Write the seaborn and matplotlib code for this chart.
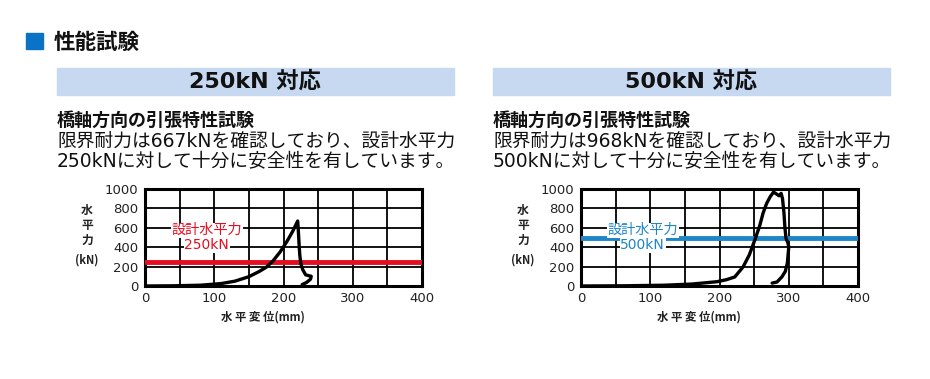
import pandas as pd
import matplotlib
matplotlib.use("Agg")
import matplotlib.pyplot as plt
import seaborn as sns
from matplotlib.patches import Rectangle

# --- Data ---
X_TICKS = [0, 100, 200, 300, 400]
Y_TICKS = [0, 200, 400, 600, 800, 1000]

# 250kN type: horizontal displacement (mm) vs horizontal force (kN)
disp_250 = [0, 40, 80, 110, 130, 150, 165, 175, 185, 195, 205, 213, 220.5,
            221.5, 222.5, 223.5, 225, 228, 232, 240, 239, 233, 227]
force_250 = [0, 2, 8, 25, 50, 96, 150, 193, 260, 350, 460, 560, 670,
             560, 430, 320, 230, 165, 115, 100, 70, 35, 15]

# 500kN type
disp_500 = [0, 60, 120, 160, 196, 210, 222, 234, 243, 251, 258, 263, 268,
            273, 278, 282, 286, 289, 291, 293, 294.5, 296, 299, 300, 298,
            295, 290, 283, 276]
force_500 = [0, 2, 8, 20, 44, 65, 93, 196, 320, 474, 620, 753, 850,
             918, 968, 950, 930, 955, 900, 760, 600, 495, 440, 400, 237,
             150, 93, 41, 30]

DESIGN_250 = 250
DESIGN_500 = 500

panels = [
    {"title": "250kN 対応", "limit": 667, "design": DESIGN_250,
     "x": disp_250, "y": force_250, "color": "#e50d1f", "left": 145},
    {"title": "500kN 対応", "limit": 968, "design": DESIGN_500,
     "x": disp_500, "y": force_500, "color": "#1c86c8", "left": 581},
]

sns.set_style("white")
plt.rcParams['font.family'] = ['Noto Sans CJK JP', 'DejaVu Sans']
LATIN_FIRST = ['DejaVu Sans', 'Noto Sans CJK JP']

W, H = 930, 379
fig = plt.figure(figsize=(W / 100, H / 100), dpi=100)


def fx(px):
    return px / W


def fy(py):
    return 1 - py / H


# section header
fig.patches.append(Rectangle((fx(26), fy(49)), 17 / W, 16 / H,
                             transform=fig.transFigure, color="#0b73c6"))
fig.text(fx(54), fy(42), "性能試験", fontsize=15.5, fontweight="bold",
         va="center", ha="left", color="#111111")

for p in panels:
    left = p["left"]
    band_l = left - 88
    # light blue banner
    fig.patches.append(Rectangle((fx(band_l), fy(95)), 397 / W, 27 / H,
                                 transform=fig.transFigure, color="#c6d9f0"))
    fig.text(fx(band_l + 198), fy(81), p["title"], fontsize=16,
             fontweight="bold", ha="center", va="center", color="#111111",
             family=LATIN_FIRST)
    fig.text(fx(band_l), fy(120), "橋軸方向の引張特性試験", fontsize=13,
             fontweight="bold", ha="left", va="center", color="#111111")
    fig.text(fx(band_l), fy(141),
             f"限界耐力は{p['limit']}kNを確認しており、設計水平力",
             fontsize=13.5, ha="left", va="center", color="#111111",
             family=LATIN_FIRST)
    fig.text(fx(band_l), fy(162),
             f"{p['design']}kNに対して十分に安全性を有しています。",
             fontsize=13.5, ha="left", va="center", color="#111111",
             family=LATIN_FIRST)

    ax = fig.add_axes([fx(left), fy(286), 277 / W, 97 / H])
    df = pd.DataFrame({"disp": p["x"], "force": p["y"]})
    ax.axhline(p["design"], color=p["color"], lw=3.5, zorder=3)
    sns.lineplot(data=df, x="disp", y="force", sort=False, estimator=None,
                 color="black", lw=2.4, ax=ax, zorder=4)
    ax.set_xlim(0, 400)
    ax.set_ylim(0, 1000)
    ax.set_xticks(X_TICKS)
    ax.set_xticks(range(0, 401, 50), minor=True)
    ax.set_yticks(Y_TICKS)
    ax.grid(True, which="both", color="black", lw=1.3, zorder=1)
    ax.set_axisbelow(True)
    for s in ax.spines.values():
        s.set_color("black")
        s.set_linewidth(2.2)
    ax.tick_params(axis="both", which="both", length=0, labelsize=9.5,
                   colors="#222222")
    ax.tick_params(axis="y", pad=5)
    ax.tick_params(axis="x", pad=4)
    for lab in ax.get_xticklabels() + ax.get_yticklabels():
        lab.set_family("DejaVu Sans")
    ax.set_xlabel("")
    ax.set_ylabel("")
    ax.text(89, 575, "設計水平力", color=p["color"], fontsize=10.2,
            ha="center", va="center", zorder=5,
            bbox=dict(facecolor="white", edgecolor="none", pad=0.5))
    ax.text(89, 420, f"{p['design']}kN", color=p["color"], fontsize=10,
            ha="center", va="center", zorder=5, family=LATIN_FIRST,
            bbox=dict(facecolor="white", edgecolor="none", pad=0.5))
    # y axis label, stacked vertically
    for i, ch in enumerate(["水", "平", "力"]):
        fig.text(fx(left - 58), fy(210 + 15 * i), ch, fontsize=8.5,
                 fontweight="bold", ha="center", va="center", color="#222222")
    fig.text(fx(left - 58), fy(260), "(kN)", fontsize=8, fontweight="bold",
             ha="center", va="center", color="#222222")
    fig.text(fx(left + 118), fy(317), "水 平 変 位(mm)", fontsize=8.2,
             fontweight="bold", ha="center", va="center", color="#222222")

fig.savefig("out.png", dpi=100, facecolor="white")
